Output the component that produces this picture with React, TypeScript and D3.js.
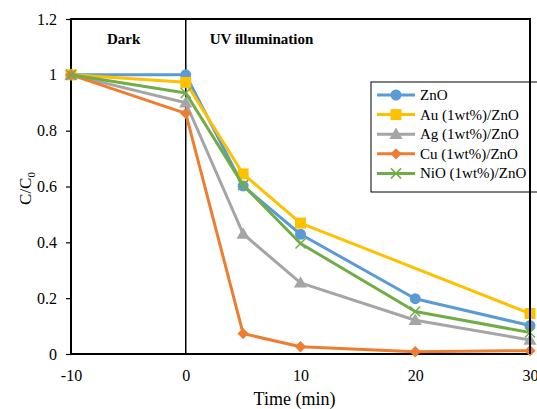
import React, { useEffect, useRef } from 'react';
import * as d3 from 'd3';

const times = [-10, 0, 5, 10, 20, 30];
const seriesNames = ['ZnO', 'Au (1wt%)/ZnO', 'Ag (1wt%)/ZnO', 'Cu (1wt%)/ZnO', 'NiO (1wt%)/ZnO'];
const znoValues = [1.0, 1.0, 0.602, 0.429, 0.198, 0.102];
// no measurement at 20 min for the Au sample
const auValues = [1.0, 0.973, 0.645, 0.469, null, 0.145];
const agValues = [1.0, 0.90, 0.43, 0.255, 0.121, 0.05];
const cuValues = [1.0, 0.862, 0.073, 0.026, 0.008, 0.012];
const nioValues = [1.0, 0.935, 0.605, 0.396, 0.152, 0.077];
const colors = ['#5B9BD5', '#FFC000', '#A5A5A5', '#ED7D31', '#70AD47'];
const markers = ['circle', 'square', 'triangle', 'diamond', 'cross'];
const xTicks = [-10, 0, 10, 20, 30];
const yTicks = [0, 0.2, 0.4, 0.6, 0.8, 1, 1.2];

const font = '"Liberation Serif", "Times New Roman", serif';

export default function App() {
  const svgRef = useRef<SVGSVGElement>(null);

  useEffect(() => {
    const margin = { top: 19, right: 7, bottom: 55, left: 71 };
    const width = 537 - margin.left - margin.right;
    const height = 409 - margin.top - margin.bottom;

    const root = d3.select(svgRef.current);
    root.selectAll('*').remove();

    const svg = root.append('g')
      .attr('transform', `translate(${margin.left},${margin.top})`);

    const x = d3.scaleLinear().domain([-10, 30]).range([0, width]);
    const y = d3.scaleLinear().domain([0, 1.2]).range([height, 0]);

    // frame
    svg.append('rect')
      .attr('x', 0).attr('y', 0)
      .attr('width', width).attr('height', height)
      .attr('fill', 'none').attr('stroke', '#000').attr('stroke-width', 2);

    // y axis
    const yAxis = svg.append('g')
      .call(d3.axisLeft(y).tickValues(yTicks).tickSize(5).tickPadding(9).tickFormat(d => String(+d)));
    yAxis.select('.domain').remove();
    yAxis.selectAll('line').attr('stroke', '#000').attr('stroke-width', 1.2);
    yAxis.selectAll('text').attr('font-family', font).attr('font-size', 16).attr('fill', '#000');

    // x axis
    const xAxis = svg.append('g')
      .attr('transform', `translate(0,${height})`)
      .call(d3.axisBottom(x).tickValues(xTicks).tickSize(0).tickPadding(16).tickFormat(d => String(d)));
    xAxis.select('.domain').remove();
    xAxis.selectAll('text').attr('font-family', font).attr('font-size', 16).attr('fill', '#000');

    // divider at t = 0
    svg.append('line')
      .attr('x1', x(0)).attr('x2', x(0))
      .attr('y1', 0).attr('y2', height)
      .attr('stroke', '#000').attr('stroke-width', 1.5);

    svg.append('text').attr('x', x(-10) + 36).attr('y', 25)
      .attr('font-family', font).attr('font-size', 15).attr('font-weight', 'bold')
      .text('Dark');
    svg.append('text').attr('x', x(0) + 24).attr('y', 25)
      .attr('font-family', font).attr('font-size', 15).attr('font-weight', 'bold')
      .text('UV illumination');

    // axis titles
    const yt = root.append('text')
      .attr('transform', `translate(31,${margin.top + y(0.6) + 2}) rotate(-90)`)
      .attr('text-anchor', 'middle')
      .attr('font-family', font).attr('font-size', 17);
    yt.append('tspan').text('C/C');
    yt.append('tspan').attr('font-size', 11).attr('dy', 4).text('0');

    root.append('text')
      .attr('x', margin.left + x(10) - 6).attr('y', 405)
      .attr('text-anchor', 'middle')
      .attr('font-family', font).attr('font-size', 18)
      .text('Time (min)');

    const allValues = [znoValues, auValues, agValues, cuValues, nioValues];

    const drawMarker = (g: any, type: string, color: string, cx: number, cy: number) => {
      if (type === 'circle') {
        g.append('circle').attr('cx', cx).attr('cy', cy).attr('r', 5.5).attr('fill', color);
      } else if (type === 'square') {
        g.append('rect').attr('x', cx - 5.5).attr('y', cy - 5.5).attr('width', 11).attr('height', 11).attr('fill', color);
      } else if (type === 'triangle') {
        g.append('path').attr('transform', `translate(${cx},${cy + 1})`)
          .attr('d', d3.symbol().type(d3.symbolTriangle).size(75)()).attr('fill', color);
      } else if (type === 'diamond') {
        g.append('path').attr('transform', `translate(${cx},${cy}) rotate(45)`)
          .attr('d', 'M-4,-4H4V4H-4Z').attr('fill', color);
      } else {
        g.append('path').attr('transform', `translate(${cx},${cy})`)
          .attr('d', 'M-5,-5L5,5M-5,5L5,-5').attr('stroke', color).attr('stroke-width', 1.5).attr('fill', 'none');
      }
    };

    allValues.forEach((vals, si) => {
      const pts = vals
        .map((v, i) => ({ t: times[i], v }))
        .filter(p => p.v !== null) as { t: number; v: number }[];
      const line = d3.line<{ t: number; v: number }>().x(p => x(p.t)).y(p => y(p.v));
      const g = svg.append('g');
      g.append('path').datum(pts).attr('d', line)
        .attr('fill', 'none').attr('stroke', colors[si]).attr('stroke-width', 3)
        .attr('stroke-linejoin', 'round');
      pts.forEach(p => drawMarker(g, markers[si], colors[si], x(p.t), y(p.v)));
    });

    // legend
    const lx = 371 - margin.left;
    const ly = 82 - margin.top;
    const leg = svg.append('g');
    leg.append('rect').attr('x', lx).attr('y', ly).attr('width', 175).attr('height', 110)
      .attr('fill', '#fff').attr('stroke', '#000').attr('stroke-width', 1);
    seriesNames.forEach((name, i) => {
      const cy = ly + 13 + i * 19.6;
      leg.append('line').attr('x1', lx + 6).attr('x2', lx + 44).attr('y1', cy).attr('y2', cy)
        .attr('stroke', colors[i]).attr('stroke-width', 3);
      drawMarker(leg, markers[i], colors[i], lx + 25, cy);
      leg.append('text').attr('x', lx + 49).attr('y', cy + 5)
        .attr('font-family', font).attr('font-size', 15).text(name);
    });
    // right border of plot sits over legend
    svg.append('line').attr('x1', width).attr('x2', width).attr('y1', 0).attr('y2', height)
      .attr('stroke', '#000').attr('stroke-width', 2);
  }, []);

  return (
    <svg ref={svgRef} width={537} height={409}
      style={{ position: 'absolute', left: 0, top: 0, background: '#fff' }} />
  );
}
